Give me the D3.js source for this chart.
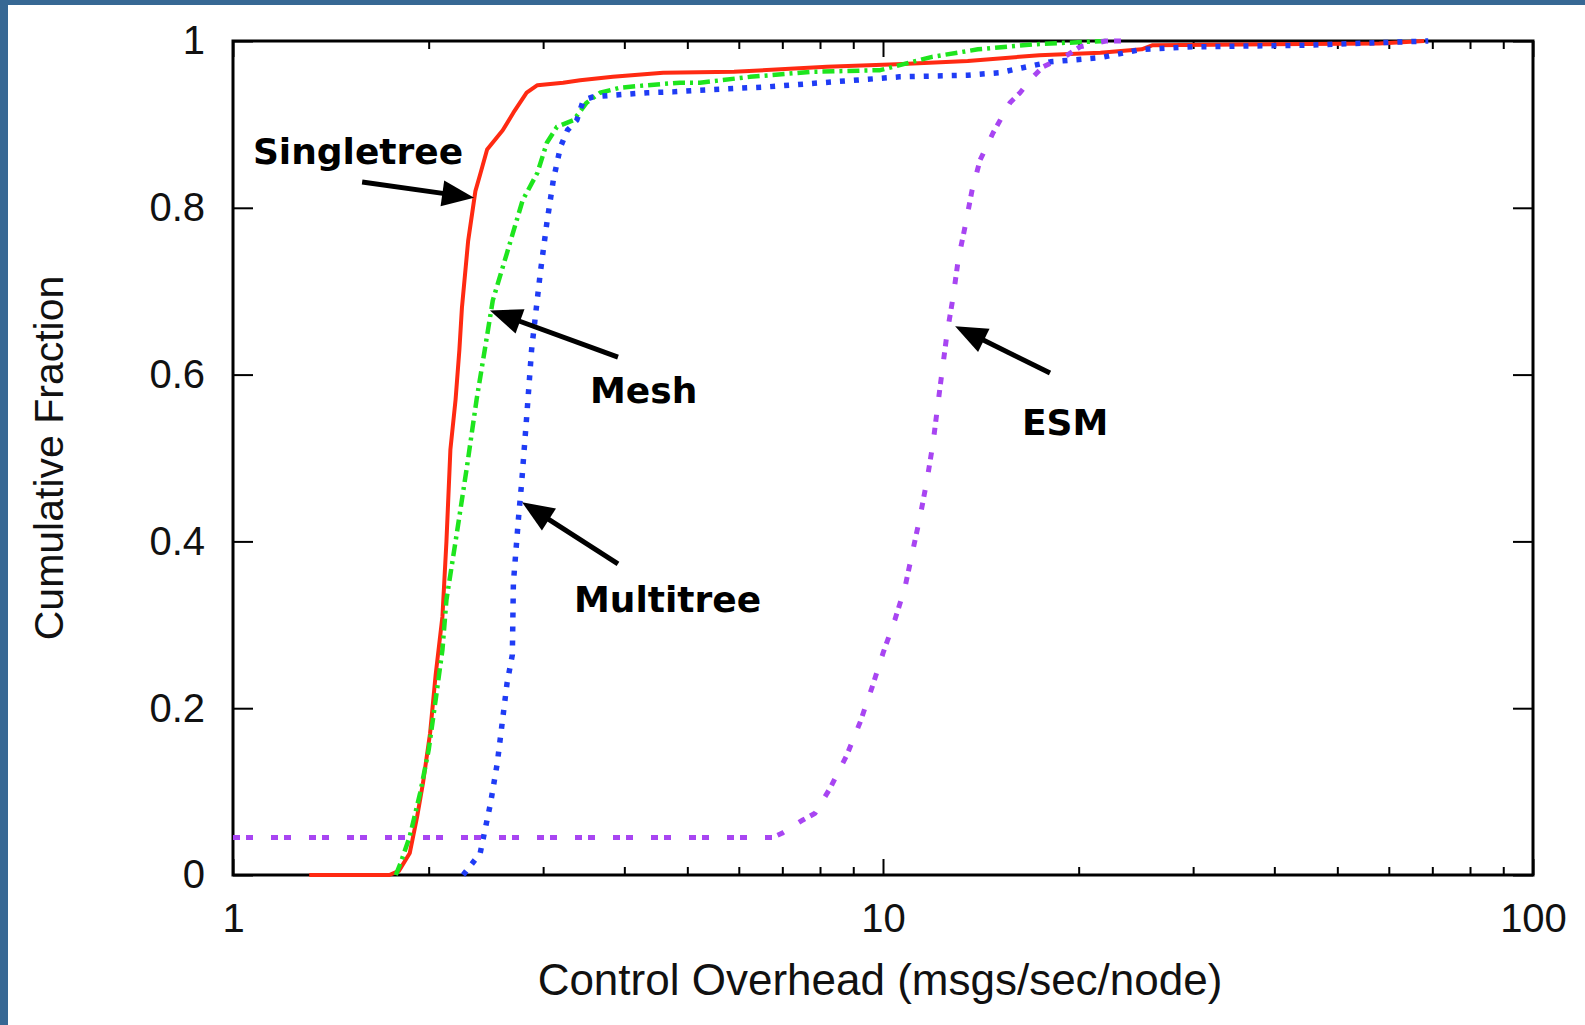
<!DOCTYPE html>
<html>
<head>
<meta charset="utf-8">
<script src="https://cdn.jsdelivr.net/npm/d3@7"></script>
<style>
  html, body { margin: 0; padding: 0; background: #fff; }
  body { width: 1585px; height: 1025px; overflow: hidden; }
  svg { display: block; }
</style>
</head>
<body>
<svg id="chart" width="1585" height="1025"></svg>
<script>
// ---- data (value, cumulative fraction) ----
const singletree = [[1.31,0],[1.74,0],[1.80,0.005],[1.87,0.026],[1.92,0.07],[1.96,0.11],[2.01,0.17],[2.05,0.24],[2.10,0.31],[2.13,0.40],[2.16,0.51],[2.20,0.57],[2.23,0.63],[2.25,0.68],[2.30,0.76],[2.36,0.82],[2.40,0.84],[2.46,0.87],[2.55,0.885],[2.60,0.893],[2.70,0.914],[2.83,0.938],[2.94,0.947],[3.22,0.95],[3.42,0.953],[3.84,0.957],[4.59,0.962],[5.9,0.963],[8.2,0.969],[10.5,0.972],[13.5,0.976],[17.4,0.983],[21.6,0.986],[25,0.99],[26,0.995],[58,0.997],[68,1.0]];
const mesh = [[1.78,0],[1.81,0.014],[1.87,0.046],[1.94,0.098],[2.0,0.15],[2.05,0.21],[2.10,0.27],[2.13,0.33],[2.21,0.41],[2.29,0.489],[2.37,0.57],[2.44,0.63],[2.51,0.689],[2.64,0.746],[2.79,0.809],[2.94,0.842],[3.04,0.878],[3.15,0.897],[3.34,0.905],[3.50,0.926],[3.67,0.938],[3.94,0.944],[4.34,0.947],[4.87,0.95],[5.23,0.95],[6.24,0.957],[7.72,0.963],[9.9,0.965],[11.9,0.981],[14,0.99],[17,0.996],[22,1.0]];
const multitree = [[2.26,0],[2.40,0.026],[2.49,0.086],[2.55,0.134],[2.59,0.177],[2.64,0.23],[2.69,0.264],[2.70,0.35],[2.75,0.429],[2.78,0.47],[2.83,0.549],[2.88,0.63],[2.97,0.722],[3.04,0.782],[3.11,0.833],[3.19,0.873],[3.27,0.893],[3.38,0.905],[3.46,0.929],[3.58,0.933],[3.84,0.935],[4.34,0.938],[4.75,0.939],[5.23,0.941],[6.63,0.945],[8.38,0.951],[10.6,0.957],[13.5,0.959],[15.1,0.962],[16.4,0.968],[18.1,0.975],[21.6,0.98],[25,0.99],[30,0.993],[45,0.995],[69,1.0]];
const esm = [[1.0,0.045],[6.77,0.045],[6.99,0.05],[7.53,0.066],[7.86,0.074],[8.29,0.104],[8.8,0.144],[9.22,0.183],[9.61,0.224],[10.0,0.266],[10.43,0.306],[10.81,0.345],[11.12,0.39],[11.4,0.429],[11.69,0.474],[11.94,0.518],[12.24,0.585],[12.55,0.65],[12.82,0.693],[13.05,0.737],[13.37,0.777],[13.71,0.821],[14.1,0.857],[14.77,0.89],[15.68,0.926],[16.25,0.938],[17.01,0.957],[17.63,0.969],[19.2,0.983],[20.1,0.993],[22,1.0],[24,1.0]];

const seriesNames = ["Singletree", "Mesh", "Multitree", "ESM"];
const seriesData = [singletree, mesh, multitree, esm];

const xMajorTicks = [1, 10, 100];
const xTickLabels = ["1", "10", "100"];
const xMinorTicks = [2,3,4,5,6,7,8,9,20,30,40,50,60,70,80,90];
const yTicks = [0, 0.2, 0.4, 0.6, 0.8, 1];
const yTickLabels = ["0", "0.2", "0.4", "0.6", "0.8", "1"];

// annotation: label anchor (value, fraction), arrow tail and tip (value, fraction)
const annLabels = [[1.073, 0.8525], [3.542, 0.566], [3.346, 0.3155], [16.36, 0.527]];
const annTails  = [[1.58, 0.831], [3.911, 0.621], [3.911, 0.373], [18.07, 0.602]];
const annTips   = [[2.349, 0.812], [2.485, 0.677], [2.784, 0.447], [12.91, 0.658]];

const xTitle = "Control Overhead (msgs/sec/node)";
const yTitle = "Cumulative Fraction";

// ---- styles ----
const styles = [
  { color: "#ff2a12", width: 4, dash: null, cap: "butt" },
  { color: "#1ee51e", width: 4.5, dash: "12,5,3,5", cap: "butt" },
  { color: "#1f3cf5", width: 5.5, dash: "5,9", cap: "butt" },
  { color: "#a845f2", width: 5, dash: "7,6,7,18", cap: "butt" }
];

const W = 1585, H = 1025;
const L = 233, R = 1533, T = 41, B = 875;

const svg = d3.select("#chart");

// blue frame
svg.append("rect").attr("x", 0).attr("y", 0).attr("width", W).attr("height", H).attr("fill", "#376894");
svg.append("rect").attr("x", 8).attr("y", 5).attr("width", W - 8).attr("height", H - 5).attr("fill", "#ffffff");

const x = d3.scaleLog().domain([1, 100]).range([L, R]);
const y = d3.scaleLinear().domain([0, 1]).range([B, T]);

const axisFont = "'Liberation Sans', Arial, Helvetica, sans-serif";

function styleAxis(g) {
  g.select(".domain").remove();
  g.selectAll(".tick line").attr("stroke", "#000").attr("stroke-width", 2);
  g.selectAll(".tick text").attr("fill", "#111").attr("font-family", axisFont).attr("font-size", 40);
}

// bottom major
svg.append("g").attr("transform", `translate(0,${B})`)
  .call(d3.axisBottom(x).tickValues(xMajorTicks).tickSizeInner(-16).tickSizeOuter(0).tickPadding(29)
    .tickFormat((d, i) => xTickLabels[i]))
  .call(styleAxis);
// bottom minor
svg.append("g").attr("transform", `translate(0,${B})`)
  .call(d3.axisBottom(x).tickValues(xMinorTicks).tickSizeInner(-8).tickSizeOuter(0).tickFormat(""))
  .call(styleAxis);
// top major/minor
svg.append("g").attr("transform", `translate(0,${T})`)
  .call(d3.axisTop(x).tickValues(xMajorTicks).tickSizeInner(-16).tickSizeOuter(0).tickFormat(""))
  .call(styleAxis);
svg.append("g").attr("transform", `translate(0,${T})`)
  .call(d3.axisTop(x).tickValues(xMinorTicks).tickSizeInner(-8).tickSizeOuter(0).tickFormat(""))
  .call(styleAxis);
// left
svg.append("g").attr("transform", `translate(${L},0)`)
  .call(d3.axisLeft(y).tickValues(yTicks).tickSizeInner(-20).tickSizeOuter(0).tickPadding(28)
    .tickFormat((d, i) => yTickLabels[i]))
  .call(styleAxis);
// right
svg.append("g").attr("transform", `translate(${R},0)`)
  .call(d3.axisRight(y).tickValues(yTicks).tickSizeInner(-20).tickSizeOuter(0).tickFormat(""))
  .call(styleAxis);

// frame
svg.append("rect").attr("x", L).attr("y", T).attr("width", R - L).attr("height", B - T)
  .attr("fill", "none").attr("stroke", "#000").attr("stroke-width", 3);

// curves
const line = d3.line().x(d => x(d[0])).y(d => y(d[1]));
seriesData.forEach((data, i) => {
  const s = styles[i];
  svg.append("path").datum(data)
    .attr("d", line)
    .attr("fill", "none")
    .attr("stroke", s.color)
    .attr("stroke-width", s.width)
    .attr("stroke-linejoin", "round")
    .attr("stroke-linecap", s.cap)
    .attr("stroke-dasharray", s.dash);
});

// annotations
const annFont = "'DejaVu Sans', Verdana, sans-serif";
seriesNames.forEach((name, i) => {
  svg.append("text")
    .attr("x", x(annLabels[i][0])).attr("y", y(annLabels[i][1]))
    .attr("font-family", annFont).attr("font-weight", "bold").attr("font-size", 36)
    .attr("fill", "#000").text(name);

  const x0 = x(annTails[i][0]), y0 = y(annTails[i][1]);
  const x1 = x(annTips[i][0]), y1 = y(annTips[i][1]);
  const ang = Math.atan2(y1 - y0, x1 - x0);
  const headLen = 32, headHalf = 13;
  const bx = x1 - headLen * Math.cos(ang), by = y1 - headLen * Math.sin(ang);
  svg.append("line")
    .attr("x1", x0).attr("y1", y0).attr("x2", bx + 4 * Math.cos(ang)).attr("y2", by + 4 * Math.sin(ang))
    .attr("stroke", "#000").attr("stroke-width", 5);
  const px = -Math.sin(ang), py = Math.cos(ang);
  svg.append("polygon")
    .attr("points", [[x1, y1], [bx + headHalf * px, by + headHalf * py], [bx - headHalf * px, by - headHalf * py]].map(p => p.join(",")).join(" "))
    .attr("fill", "#000");
});

// axis titles
svg.append("text")
  .attr("x", (L + R) / 2 - 3).attr("y", 995)
  .attr("text-anchor", "middle")
  .attr("font-family", axisFont).attr("font-size", 44).attr("fill", "#111")
  .text(xTitle);

svg.append("text")
  .attr("transform", `translate(63,${458}) rotate(-90)`)
  .attr("text-anchor", "middle")
  .attr("font-family", axisFont).attr("font-size", 41).attr("fill", "#111")
  .text(yTitle);
</script>
</body>
</html>
